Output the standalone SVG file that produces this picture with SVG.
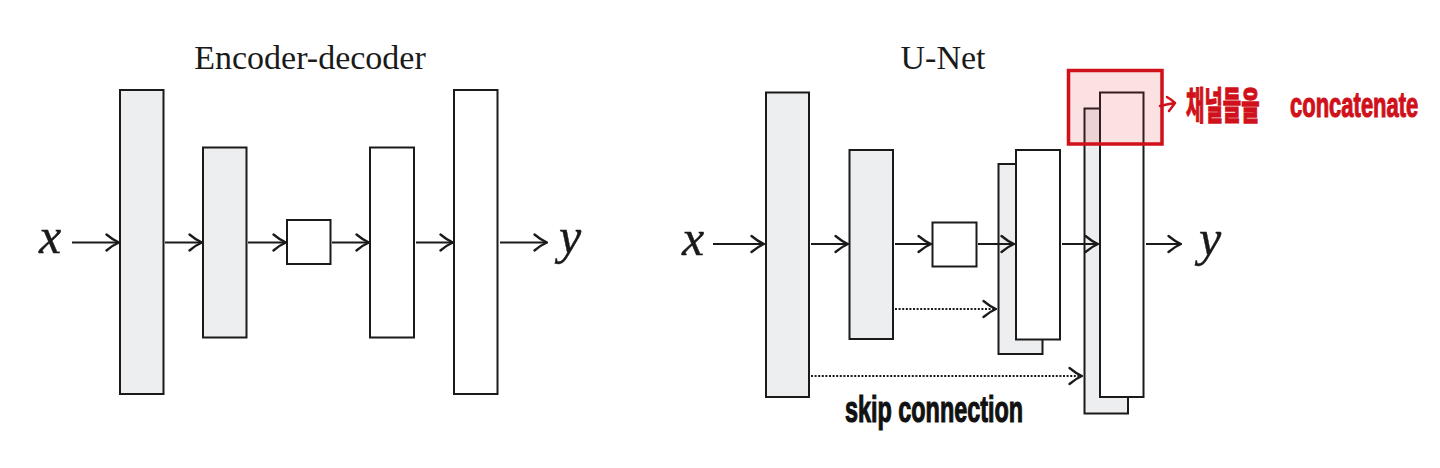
<svg xmlns="http://www.w3.org/2000/svg" width="1440" height="468" viewBox="0 0 1440 468">
  <style>
    .gray { fill: #edeef0; stroke: #1a1a1a; stroke-width: 2; }
    .white { fill: #ffffff; stroke: #1a1a1a; stroke-width: 2; }
    .title { font-family: "Liberation Serif", "DejaVu Serif", serif; font-size: 34px; fill: #1a1a1a; text-anchor: middle; }
    .math { font-family: "Liberation Serif", "DejaVu Serif", serif; font-style: italic; font-size: 50px; fill: #1a1a1a; stroke: #1a1a1a; stroke-width: 0.4; text-anchor: middle; }
    .conn { stroke: #1a1a1a; stroke-width: 2; fill: none; marker-end: url(#arrow); }
    .dot { stroke-dasharray: 2 1.6; }
    .hand { font-family: "Liberation Sans", "Noto Sans CJK KR", sans-serif; font-weight: bold; }
    .red { fill: #d0101a; stroke: #d0101a; stroke-width: 0.7; }
    .ink { fill: #111111; stroke: #111111; stroke-width: 0.7; }
  </style>
  <defs>
    <marker id="arrow" viewBox="0 0 15 20" refX="14" refY="10" markerWidth="15" markerHeight="20" markerUnits="userSpaceOnUse" orient="auto">
      <path d="M1.5,2 Q8,7.5 14,10 Q8,12.5 1.5,18" fill="none" stroke="#1a1a1a" stroke-width="2.3" stroke-linecap="round" stroke-dasharray="none"/>
    </marker>
  </defs>
  <rect width="1440" height="468" fill="#ffffff"/>

  <!-- Titles -->
  <text class="title" x="310" y="69">Encoder-decoder</text>
  <text class="title" x="943" y="69">U-Net</text>

  <!-- Left: encoder-decoder -->
  <g id="ed-x"><text class="math" x="50" y="253">x</text></g>
  <g id="ed-enc1"><rect class="gray" x="120" y="90" width="43.5" height="304"/></g>
  <g id="ed-enc2"><rect class="gray" x="203" y="147.5" width="43.5" height="190"/></g>
  <g id="ed-bottleneck"><rect class="white" x="287" y="220" width="43.5" height="44"/></g>
  <g id="ed-dec1"><rect class="white" x="370" y="147.5" width="44" height="190"/></g>
  <g id="ed-dec2"><rect class="white" x="454" y="90" width="43.5" height="304"/></g>
  <g id="ed-y"><text class="math" x="570" y="253">y</text></g>

  <!-- Right: U-Net -->
  <g id="un-x"><text class="math" x="693" y="255">x</text></g>
  <g id="un-enc1"><rect class="gray" x="766" y="92.5" width="43" height="304.5"/></g>
  <g id="un-enc2"><rect class="gray" x="849.5" y="150" width="43.5" height="189"/></g>
  <g id="un-bottleneck"><rect class="white" x="932.5" y="222.5" width="44" height="44"/></g>
  <g id="un-dec1">
    <rect class="gray" x="998.5" y="164" width="44" height="190"/>
    <rect class="white" x="1016" y="150" width="44" height="189.5"/>
  </g>
  <g id="un-dec2">
    <rect class="gray" x="1084.5" y="108.5" width="43.5" height="305"/>
    <rect class="white" x="1100" y="92.5" width="43.5" height="304.5"/>
  </g>
  <g id="un-y"><text class="math" x="1210" y="255">y</text></g>

  <!-- Connectors -->
  <g id="connectors">
    <path class="conn" d="M72,242.5 H119"/>
    <path class="conn" d="M165,242.5 H202"/>
    <path class="conn" d="M248,242.5 H286"/>
    <path class="conn" d="M332,242.5 H369"/>
    <path class="conn" d="M416,242.5 H453"/>
    <path class="conn" d="M500,242.5 H547"/>

    <path class="conn" d="M713,244 H764"/>
    <path class="conn" d="M811,244 H848"/>
    <path class="conn" d="M895,244 H931"/>
    <path class="conn" d="M978,244 H1014"/>
    <path class="conn" d="M1062,244 H1098"/>
    <path class="conn" d="M1146,244 H1181"/>

    <path class="conn dot" d="M895,309 H996"/>
    <path class="conn dot" d="M811,376 H1082"/>
  </g>

  <!-- Highlight box -->
  <g id="highlight">
    <rect x="1068.5" y="70.5" width="93.5" height="73.5" fill="#e02828" fill-opacity="0.14" stroke="#d0101a" stroke-width="3.5"/>
    <path d="M1160,106 Q1168,104 1175,103 M1167,97 Q1172,100 1175,103 Q1172,107 1169,111" fill="none" stroke="#d0101a" stroke-width="2.5" stroke-linecap="round" stroke-linejoin="round"/>
  </g>

  <!-- Annotations -->
  <g id="annotation-concat">
    <text class="hand red" transform="translate(1186,119) scale(1,1.9)" x="0" y="0" font-size="20">채널들을</text>
    <text class="hand red" transform="translate(1290,117) scale(1,1.6)" x="0" y="0" font-size="22">concatenate</text>
  </g>
  <g id="annotation-skip">
    <text class="hand ink" transform="translate(845,422) scale(1,1.6)" x="0" y="0" font-size="23.4">skip connection</text>
  </g>
</svg>
